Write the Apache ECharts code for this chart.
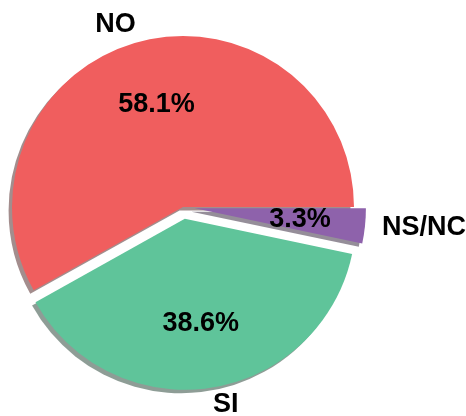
<!DOCTYPE html>
<html>
<head>
<meta charset="utf-8">
<script src="https://cdn.jsdelivr.net/npm/echarts@6/dist/echarts.min.js"></script>
<style>
  html, body { margin: 0; padding: 0; background: #ffffff; }
  #chart { width: 466px; height: 416px; }
</style>
</head>
<body>
<div id="chart"></div>
<script>
// Survey answers and their shares (%)
const categories = ['NO', 'SI', 'NS/NC'];
const shares = [58.1, 38.6, 3.3];
// How far each wedge is pulled out, as a fraction of the radius
const explodeFrac = [0, 0.07, 0.07];
const colors = ['#F05E5E', '#5FC49A', '#8E62AB'];

const chart = echarts.init(document.getElementById('chart'), null, { renderer: 'canvas' });

const CX = 183, CY = 207, R = 171;
const SHADOW_OFF = 0.02 * R;
const total = shares.reduce((a, b) => a + b, 0);
const FONT = {
  fontFamily: '"Liberation Sans", Arial, Helvetica, sans-serif',
  fontWeight: 'bold',
  fontSize: 27,
  color: '#000000'
};

// Mid-angle of each wedge, counter-clockwise from 3 o'clock
let acc = 0;
const midAngles = shares.map(v => {
  const a = (acc + v / 2) / total * 2 * Math.PI;
  acc += v;
  return a;
});

// Drop shadow: 30% of the wedge colour at half opacity
function shadowColor(hex) {
  const n = parseInt(hex.slice(1), 16);
  const r = Math.round(((n >> 16) & 255) * 0.3);
  const g = Math.round(((n >> 8) & 255) * 0.3);
  const b = Math.round((n & 255) * 0.3);
  return `rgba(${r},${g},${b},0.5)`;
}

const HIDDEN = { color: 'rgba(0,0,0,0)' };
const base = {
  type: 'pie',
  startAngle: 0,
  clockwise: false,
  silent: true,
  animation: false,
  avoidLabelOverlap: false,
  emphasis: { disabled: true },
  labelLine: { show: false }
};

const series = [];
categories.forEach((name, i) => {
  const off = explodeFrac[i] * R;
  const cx = CX + off * Math.cos(midAngles[i]);
  const cy = CY - off * Math.sin(midAngles[i]);
  // Every series holds all wedges so angles line up; only wedge i is painted
  const dataFor = (style, showLabel) => categories.map((n, j) => ({
    name: n,
    value: shares[j],
    itemStyle: j === i ? style : HIDDEN,
    label: { show: j === i && showLabel }
  }));

  // shadow
  series.push(Object.assign({}, base, {
    z: 2 * i + 1,
    center: [cx - SHADOW_OFF, cy + SHADOW_OFF],
    radius: [0, R],
    label: { show: false },
    data: dataFor({ color: shadowColor(colors[i]), borderWidth: 0 }, false)
  }));

  // wedge, with its category name just outside
  series.push(Object.assign({}, base, {
    z: 2 * i + 2,
    center: [cx, cy],
    radius: [0, R],
    label: Object.assign({
      show: true,
      position: 'outside',
      formatter: '{b}',
      distanceToLabelLine: 0,
      bleedMargin: 0,
      overflow: 'none'
    }, FONT),
    labelLine: { show: false, length: 0.1 * R, length2: 0 },
    data: dataFor({ color: colors[i], borderWidth: 0 }, true)
  }));

  // percentage label at 0.6 R
  series.push(Object.assign({}, base, {
    z: 20,
    center: [cx, cy],
    radius: [0, 1.2 * R],
    label: Object.assign({
      show: true,
      position: 'inside',
      formatter: p => p.value.toFixed(1) + '%'
    }, FONT),
    data: dataFor(HIDDEN, true)
  }));
});

chart.setOption({
  backgroundColor: '#ffffff',
  animation: false,
  series: series
});
</script>
</body>
</html>
